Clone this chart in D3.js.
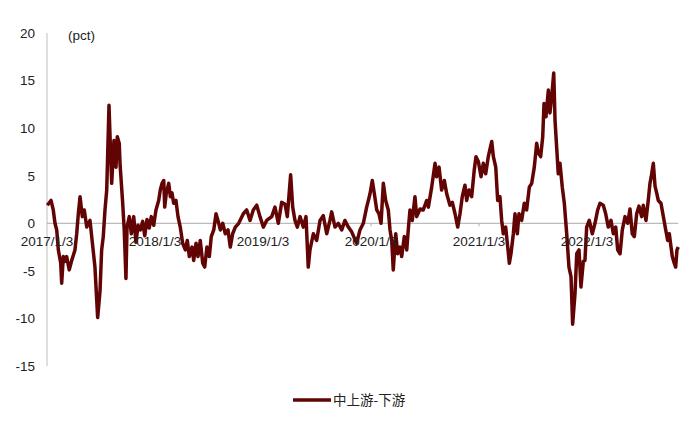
<!DOCTYPE html>
<html>
<head>
<meta charset="utf-8">
<script src="https://cdn.jsdelivr.net/npm/d3@7/dist/d3.min.js"></script>
<style>
  html, body { margin: 0; padding: 0; background: #fff; }
  svg { display: block; }
  text { font-family: "Liberation Sans", Arial, sans-serif; fill: #222; }
</style>
</head>
<body>
<svg id="chart" width="700" height="425"></svg>
<script>
// Time is in decimal years counted from 2017/1/3 (2017.0 = 2017/1/3).
const tickYears = [2017, 2018, 2019, 2020, 2021, 2022];
const tickLabels = ["2017/1/3", "2018/1/3", "2019/1/3", "2020/1/3", "2021/1/3", "2022/1/3"];
const yTicks = [20, 15, 10, 5, 0, -5, -10, -15];
const seriesName = "中上游-下游";
const unitLabel = "(pct)";

const s2017 = [
  [2017.003, 1.9], [2017.037, 2.4], [2017.058, 1.4], [2017.074, 0.0], [2017.090, -0.7],
  [2017.105, -2.8], [2017.127, -4.2], [2017.136, -6.3], [2017.151, -3.5], [2017.167, -4.0],
  [2017.182, -3.5], [2017.206, -4.9], [2017.229, -3.9], [2017.259, -2.8], [2017.275, -1.1],
  [2017.290, 1.0], [2017.306, 2.8], [2017.327, 0.7], [2017.345, 1.4], [2017.368, -0.4],
  [2017.398, 0.3], [2017.414, -1.4], [2017.444, -4.6], [2017.469, -9.9], [2017.491, -7.1],
  [2017.506, -2.8], [2017.521, -1.4], [2017.537, 1.4], [2017.553, 3.5], [2017.574, 12.4],
  [2017.590, 7.0], [2017.599, 4.2], [2017.620, 8.7], [2017.639, 5.9], [2017.651, 9.1],
  [2017.669, 8.4], [2017.676, 6.3], [2017.701, 2.1], [2017.715, -0.7], [2017.731, -5.8],
  [2017.741, -0.4], [2017.762, 0.7], [2017.781, -1.1], [2017.803, 0.7], [2017.824, -2.0],
  [2017.843, -0.2], [2017.864, -0.7], [2017.886, 0.2], [2017.905, -1.3], [2017.926, 0.4],
  [2017.947, -0.5], [2017.966, 0.7], [2017.988, -0.2]
];
const s2018 = [
  [2018.009, 1.4], [2018.034, 2.4], [2018.049, 3.5], [2018.065, 4.2], [2018.081, 4.5],
  [2018.090, 1.7], [2018.105, 3.2], [2018.127, 4.2], [2018.142, 2.8], [2018.157, 3.2],
  [2018.173, 2.1], [2018.194, 2.4], [2018.213, 0.7], [2018.234, -0.4], [2018.256, -2.1],
  [2018.281, -2.8], [2018.299, -1.8], [2018.318, -3.5], [2018.343, -2.5], [2018.358, -3.9],
  [2018.380, -2.1], [2018.398, -3.5], [2018.419, -1.8], [2018.442, -4.2], [2018.460, -4.6],
  [2018.481, -2.5], [2018.503, -3.5], [2018.521, -1.4], [2018.544, -0.7], [2018.565, 1.0],
  [2018.583, 0.3], [2018.605, -0.7], [2018.627, 0.0], [2018.651, -1.1], [2018.676, -0.7],
  [2018.697, -2.5], [2018.719, -1.1], [2018.744, -0.4], [2018.775, 0.0], [2018.818, 1.0],
  [2018.849, 1.4], [2018.880, 0.3], [2018.910, 1.4], [2018.942, 1.9], [2018.972, 0.7]
];
const s2019 = [
  [2019.003, -0.4], [2019.034, 0.3], [2019.081, 0.7], [2019.111, 1.7], [2019.142, 0.0],
  [2019.173, 2.2], [2019.204, 2.0], [2019.225, 0.7], [2019.256, 5.1], [2019.275, 1.7],
  [2019.296, 0.3], [2019.318, -0.4], [2019.343, 0.7], [2019.373, -0.4], [2019.398, 0.7],
  [2019.419, -4.6], [2019.435, -2.8], [2019.466, -1.1], [2019.497, -1.8], [2019.528, 0.3],
  [2019.558, 0.8], [2019.590, -1.1], [2019.620, 0.3], [2019.636, 1.2], [2019.667, -0.4],
  [2019.697, 0.0], [2019.729, -0.7], [2019.759, 0.3], [2019.790, -0.4], [2019.821, -0.9],
  [2019.867, -2.1], [2019.898, -0.7], [2019.929, 0.0], [2019.960, 1.7], [2019.991, 3.1]
];
const s2020 = [
  [2020.012, 4.5], [2020.031, 3.1], [2020.053, 1.4], [2020.074, 1.0], [2020.093, 0.0],
  [2020.114, 4.2], [2020.136, 2.4], [2020.160, 1.4], [2020.176, -0.7], [2020.192, -1.8],
  [2020.206, -4.9], [2020.229, -1.1], [2020.247, -3.2], [2020.269, -2.5], [2020.284, -3.5],
  [2020.308, -1.4], [2020.331, -2.8], [2020.345, -0.7], [2020.361, 1.4], [2020.382, 0.3],
  [2020.407, 2.8], [2020.423, 0.7], [2020.454, 1.5], [2020.484, 1.4], [2020.516, 2.4],
  [2020.531, 1.7], [2020.562, 3.8], [2020.593, 6.3], [2020.608, 4.9], [2020.630, 5.9],
  [2020.654, 3.5], [2020.679, 4.5], [2020.701, 3.1], [2020.731, 1.9], [2020.753, 2.2],
  [2020.778, 1.0], [2020.803, -0.4], [2020.824, 1.0], [2020.845, 2.8], [2020.870, 4.0],
  [2020.886, 2.4], [2020.907, 3.5], [2020.932, 2.8], [2020.956, 5.6], [2020.972, 7.0],
  [2020.994, 6.5]
];
const s2021 = [
  [2021.019, 4.9], [2021.040, 6.3], [2021.062, 5.2], [2021.086, 7.0], [2021.118, 8.6],
  [2021.133, 7.0], [2021.155, 5.9], [2021.173, 2.4], [2021.194, 2.8], [2021.210, 0.3],
  [2021.225, -1.1], [2021.247, -0.4], [2021.266, -2.5], [2021.281, -4.2], [2021.296, -3.2],
  [2021.318, -1.1], [2021.333, 1.0], [2021.355, -1.1], [2021.370, 1.0], [2021.395, 0.3],
  [2021.419, 2.1], [2021.441, 1.4], [2021.466, 3.8], [2021.488, 4.2], [2021.512, 5.9],
  [2021.534, 8.4], [2021.549, 7.4], [2021.571, 7.0], [2021.590, 9.1], [2021.602, 12.6],
  [2021.620, 11.2], [2021.642, 14.0], [2021.657, 11.6], [2021.673, 13.3], [2021.692, 15.8],
  [2021.704, 10.8], [2021.719, 8.0], [2021.734, 5.2], [2021.750, 6.3], [2021.771, 3.8],
  [2021.790, 2.1], [2021.812, -1.1], [2021.833, -4.6], [2021.852, -5.6], [2021.867, -10.6],
  [2021.889, -7.4], [2021.905, -3.2], [2021.926, -2.8], [2021.944, -6.7], [2021.966, -4.0],
  [2021.981, -3.9], [2021.997, -0.4]
];
const s2022 = [
  [2022.021, 0.3], [2022.049, -1.1], [2022.074, 0.0], [2022.099, 1.4], [2022.120, 2.1],
  [2022.151, 1.9], [2022.173, 1.0], [2022.197, -0.4], [2022.222, 0.3], [2022.244, -1.1],
  [2022.266, -0.4], [2022.284, -2.8], [2022.306, -3.2], [2022.327, -0.7], [2022.352, 0.7],
  [2022.377, 0.0], [2022.398, 1.5], [2022.419, -1.1], [2022.438, -1.4], [2022.460, 1.0],
  [2022.481, 1.8], [2022.506, 0.7], [2022.521, 1.9], [2022.546, 0.3], [2022.567, 2.4],
  [2022.583, 4.2], [2022.595, 4.9], [2022.614, 6.3], [2022.630, 3.9], [2022.645, 3.2],
  [2022.660, 2.4], [2022.685, 2.1], [2022.707, 0.7], [2022.729, -0.7], [2022.747, -1.8],
  [2022.762, -1.1], [2022.778, -2.5], [2022.790, -3.5], [2022.808, -4.2], [2022.821, -4.6],
  [2022.833, -2.8], [2022.845, -2.5]
];

const data = [].concat(s2017, s2018, s2019, s2020, s2021, s2022)
  .map(d => ({ t: d[0], v: d[1] }));

const svg = d3.select("#chart");
const lineColor = "#630404";

const x = d3.scaleLinear().domain([2017, 2022]).range([47, 587]);
const y = d3.scaleLinear().domain([-15, 20]).range([366, 33]);
const xEnd = x(d3.max(data, d => d.t));

// y axis line
svg.append("line")
  .attr("x1", x(2017)).attr("x2", x(2017))
  .attr("y1", y(20)).attr("y2", y(-15))
  .attr("stroke", "#d4d4d4").attr("stroke-width", 1.5);

// y tick labels
svg.append("g").selectAll("text").data(yTicks).join("text")
  .attr("x", 35).attr("y", d => y(d)).attr("dy", "0.36em")
  .attr("text-anchor", "end").attr("font-size", 13.5)
  .text(d => d);

// zero baseline with year ticks
svg.append("line")
  .attr("x1", x(2017)).attr("x2", xEnd)
  .attr("y1", y(0)).attr("y2", y(0))
  .attr("stroke", "#aaaaaa").attr("stroke-width", 1);
svg.append("g").selectAll("line").data(tickYears.slice(1)).join("line")
  .attr("x1", d => x(d)).attr("x2", d => x(d))
  .attr("y1", y(0)).attr("y2", y(0) + 3)
  .attr("stroke", "#aaaaaa").attr("stroke-width", 1);

// series line
const line = d3.line().x(d => x(d.t)).y(d => y(d.v));
svg.append("path").datum(data)
  .attr("d", line)
  .attr("fill", "none")
  .attr("stroke", lineColor)
  .attr("stroke-width", 3.5)
  .attr("stroke-linejoin", "round");

// x tick labels (drawn above the line, as in the reference)
svg.append("g").selectAll("text").data(tickYears).join("text")
  .attr("x", d => x(d)).attr("y", 246)
  .attr("text-anchor", "middle").attr("font-size", 13.5)
  .text((d, i) => tickLabels[i]);

// unit label
svg.append("text").attr("x", 68).attr("y", 40)
  .attr("font-size", 13.5).text(unitLabel);

// legend
svg.append("line")
  .attr("x1", 293).attr("x2", 331).attr("y1", 400).attr("y2", 400)
  .attr("stroke", lineColor).attr("stroke-width", 3.5);
svg.append("text").attr("x", 333).attr("y", 400).attr("dy", "0.36em")
  .attr("font-size", 13.5)
  .style("font-family", "'Noto Sans CJK SC', sans-serif")
  .text(seriesName);
</script>
</body>
</html>
